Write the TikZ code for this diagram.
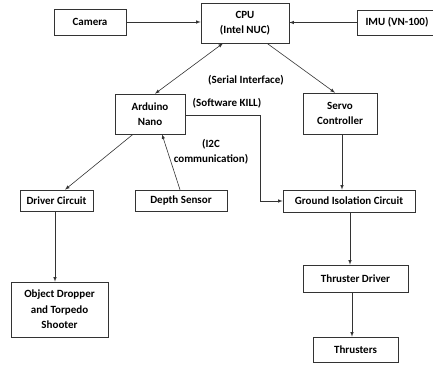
\documentclass[tikz,border=0pt]{standalone}
\usepackage{fontspec}
\setmainfont{Carlito}

\tikzset{
	block/.style={draw=black!80, line width=0.6pt, fill=white, inner sep=0pt, align=center, font=\bfseries\fontsize{11}{15.5}\selectfont},
	note/.style={inner sep=0pt, align=center, font=\bfseries\fontsize{11}{15.5}\selectfont},
	link/.style={draw=black!80, line width=0.6pt, -latex},
}

\begin{document}
\begin{tikzpicture}[x=1pt, y=-1pt]
				\useasboundingbox (0,0) rectangle (433,366);
				
				\node[block, minimum width=72pt, minimum height=26pt] (camera) at (90, 22) {Camera};
				\node[block, minimum width=88pt, minimum height=40pt] (cpu) at (245, 23) {CPU\\(Intel NUC)};
				\node[block, minimum width=80pt, minimum height=25pt] (imu) at (397, 22.5) {IMU (VN-100)};
				
				\node[block, minimum width=70pt, minimum height=40pt] (arduino) at (150, 114) {Arduino\\Nano};
				\node[block, minimum width=74pt, minimum height=41pt] (servo) at (340, 113.5) {Servo\\Controller};
				
				\node[block, minimum width=73pt, minimum height=21pt] (driver) at (56.5, 200.5) {Driver Circuit};
				\node[block, minimum width=92pt, minimum height=21pt] (depth) at (181, 200.5) {Depth Sensor};
				\node[block, minimum width=132pt, minimum height=22pt] (ground) at (349, 201) {Ground Isolation Circuit};
				
				\node[block, minimum width=97pt, minimum height=55pt] (dropper) at (59.5, 309.5) {Object Dropper\\and Torpedo\\Shooter};
				\node[block, minimum width=105pt, minimum height=27pt] (tdriver) at (355.5, 278.5) {Thruster Driver};
				\node[block, minimum width=85pt, minimum height=25pt] (thrusters) at (355.5, 349.5) {Thrusters};
				
				\node[note] (serial) at (246, 80) {(Serial Interface)};
				\node[note] (kill) at (227, 103) {(Software KILL)};
				\node[note] (i2c) at (211, 152) {(I2C\\communication)};
				
				\coordinate (killbend) at (260, 115);
				
				\draw[link] (camera.east) -- (cpu.west |- camera.east);
				\draw[link] (imu.west) -- (cpu.east |- imu.west);
				\draw[link, latex-latex] ([xshift=-22pt]cpu.south) -- ([xshift=5pt]arduino.north);
				\draw[link] ([xshift=22pt]cpu.south) -- ([xshift=-5pt]servo.north);
				\draw[link] ([xshift=-17pt]arduino.south) -- ([xshift=8.5pt]driver.north);
				\draw[link] ([xshift=-1pt]depth.north) -- ([xshift=12pt]arduino.south);
				\draw[link] (arduino.east |- killbend) -- (killbend) |- (ground.west);
				\draw[link] ([xshift=2pt]servo.south) -- ([xshift=2pt]servo.south |- ground.north);
				\draw[link] ([xshift=1pt]ground.south) -- ([xshift=1pt]ground.south |- tdriver.north);
				\draw[link] ([xshift=-3.5pt]tdriver.south) -- ([xshift=-3.5pt]tdriver.south |- thrusters.north);
				\draw[link] ([xshift=-1.5pt]driver.south) -- ([xshift=-1.5pt]driver.south |- dropper.north);
\end{tikzpicture}
\end{document}
